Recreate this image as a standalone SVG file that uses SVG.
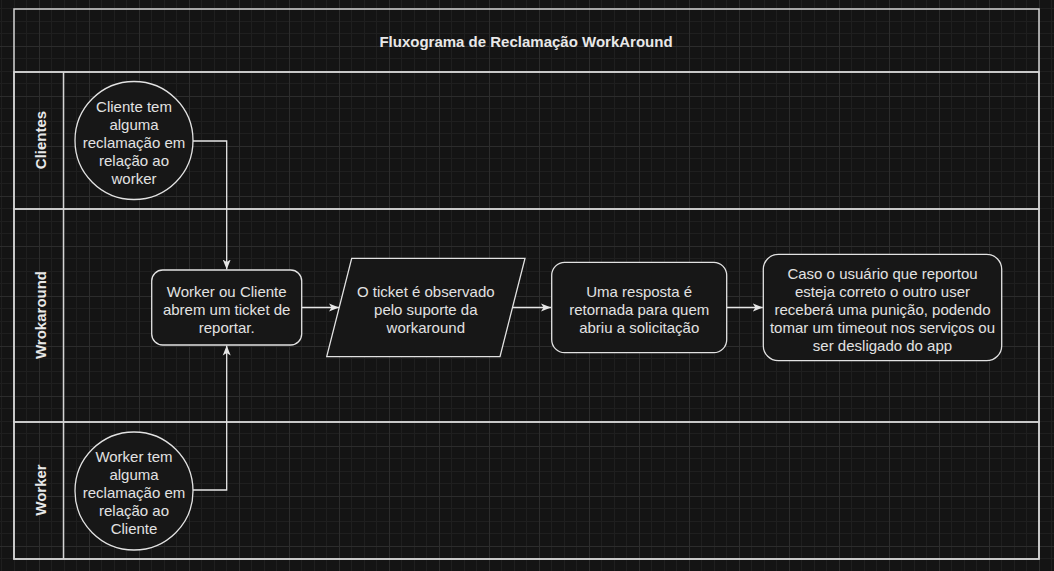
<svg xmlns="http://www.w3.org/2000/svg" width="1054" height="571" viewBox="0 0 1054 571">
  <defs>
    <pattern id="grid" patternUnits="userSpaceOnUse" x="39" y="46" width="50" height="50">
      <rect width="50" height="50" fill="#141414"/>
      <rect x="12" y="0" width="1" height="50" fill="#1f1f1f"/>
      <rect x="25" y="0" width="1" height="50" fill="#1f1f1f"/>
      <rect x="37" y="0" width="1" height="50" fill="#1f1f1f"/>
      <rect x="0" y="12" width="50" height="1" fill="#1f1f1f"/>
      <rect x="0" y="25" width="50" height="1" fill="#1f1f1f"/>
      <rect x="0" y="37" width="50" height="1" fill="#1f1f1f"/>
      <rect x="0" y="0" width="1" height="50" fill="#2c2c2c"/>
      <rect x="0" y="0" width="50" height="1" fill="#2c2c2c"/>
    </pattern>
    <marker id="arrow" viewBox="0 0 10 10" refX="10" refY="5" markerWidth="10" markerHeight="10" markerUnits="userSpaceOnUse" orient="auto">
      <path d="M0,1 L10,5 L0,9 L2.5,5 Z" fill="#e6e6e6"/>
    </marker>
    <style>
      .pool { fill: none; stroke: #d4d4d4; stroke-width: 1.5; }
      .node { fill: #171717; stroke: #e2e2e2; stroke-width: 1.3; }
      .edge { fill: none; stroke: #e6e6e6; stroke-width: 1.3; marker-end: url(#arrow); }
      .t { font-family: "Liberation Sans", Arial, sans-serif; font-size: 15px; fill: #e2e2e2; text-anchor: middle; dominant-baseline: central; }
      .h { font-family: "Liberation Sans", Arial, sans-serif; font-size: 15px; font-weight: bold; fill: #e8e8e8; text-anchor: middle; dominant-baseline: central; }
    </style>
  </defs>
  <rect width="1054" height="571" fill="url(#grid)"/>

  <g id="pool">
    <rect class="pool" x="14" y="9" width="1025" height="550"/>
    <line class="pool" x1="14" y1="72" x2="1039" y2="72"/>
    <text class="h" x="526" y="41">Fluxograma de Reclamação WorkAround</text>
  </g>
  <g id="lane-clientes">
    <rect class="pool" x="14" y="72" width="1025" height="137"/>
    <line class="pool" x1="63.5" y1="72" x2="63.5" y2="209"/>
    <text class="h" transform="translate(40,140) rotate(-90)">Clientes</text>
  </g>
  <g id="lane-wrokaround">
    <rect class="pool" x="14" y="209" width="1025" height="213"/>
    <line class="pool" x1="63.5" y1="209" x2="63.5" y2="422"/>
    <text class="h" transform="translate(40,315) rotate(-90)">Wrokaround</text>
  </g>
  <g id="lane-worker">
    <rect class="pool" x="14" y="422" width="1025" height="137"/>
    <line class="pool" x1="63.5" y1="422" x2="63.5" y2="559"/>
    <text class="h" transform="translate(40,490) rotate(-90)">Worker</text>
  </g>

  <g id="connectors">
    <path class="edge" d="M193,141 L226.7,141 L226.7,269.5"/>
    <path class="edge" d="M193,490 L226.7,490 L226.7,345.5"/>
    <path class="edge" d="M301.7,307.5 L339,307.5"/>
    <path class="edge" d="M512.5,307.5 L551,307.5"/>
    <path class="edge" d="M726.7,307.5 L762.8,307.5"/>
  </g>

  <g id="cliente-reclamacao">
    <circle class="node" cx="134" cy="140.5" r="59"/>
    <text class="t" x="134" y="106">Cliente tem</text>
    <text class="t" x="134" y="124">alguma</text>
    <text class="t" x="134" y="142">reclamação em</text>
    <text class="t" x="134" y="160">relação ao</text>
    <text class="t" x="134" y="178">worker</text>
  </g>

  <g id="worker-reclamacao">
    <circle class="node" cx="134" cy="491" r="59"/>
    <text class="t" x="134" y="456">Worker tem</text>
    <text class="t" x="134" y="474">alguma</text>
    <text class="t" x="134" y="492">reclamação em</text>
    <text class="t" x="134" y="510">relação ao</text>
    <text class="t" x="134" y="528">Cliente</text>
  </g>

  <g id="abrir-ticket">
    <rect class="node" x="151.7" y="270" width="150" height="75" rx="11"/>
    <text class="t" x="226.7" y="291.5">Worker ou Cliente</text>
    <text class="t" x="226.7" y="309.5">abrem um ticket de</text>
    <text class="t" x="226.7" y="327.5">reportar.</text>
  </g>

  <g id="ticket-observado">
    <polygon class="node" points="326.7,356.7 351.7,258.3 525,258.3 500,356.7"/>
    <text class="t" x="425.8" y="291.5">O ticket é observado</text>
    <text class="t" x="425.8" y="309.5">pelo suporte da</text>
    <text class="t" x="425.8" y="327.5">workaround</text>
  </g>

  <g id="resposta">
    <rect class="node" x="551.7" y="262.3" width="175" height="90.4" rx="13"/>
    <text class="t" x="639.2" y="291.5">Uma resposta é</text>
    <text class="t" x="639.2" y="309.5">retornada para quem</text>
    <text class="t" x="639.2" y="327.5">abriu a solicitação</text>
  </g>

  <g id="punicao">
    <rect class="node" x="763.3" y="254.3" width="238.4" height="106.4" rx="15"/>
    <text class="t" x="882.5" y="273.5">Caso o usuário que reportou</text>
    <text class="t" x="882.5" y="291.5">esteja correto o outro user</text>
    <text class="t" x="882.5" y="309.5">receberá uma punição, podendo</text>
    <text class="t" x="882.5" y="327.5">tomar um timeout nos serviços ou</text>
    <text class="t" x="882.5" y="345.5">ser desligado do app</text>
  </g>
</svg>
